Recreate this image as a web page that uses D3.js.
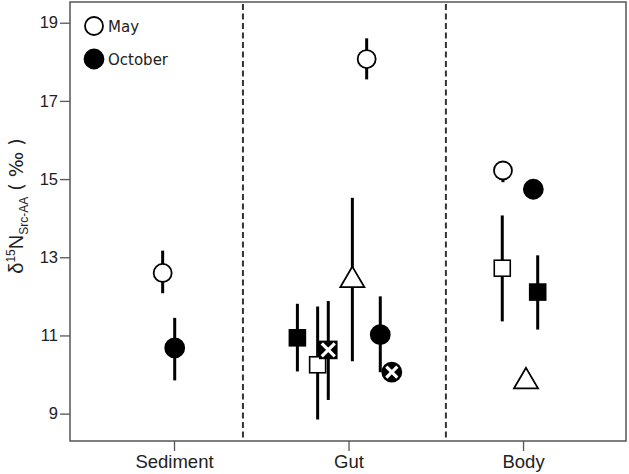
<!DOCTYPE html>
<html>
<head>
<meta charset="utf-8">
<title>d15N Src-AA</title>
<script src="https://d3js.org/d3.v7.min.js"></script>
<style>
  body { margin: 0; background: #fff; }
  svg { display: block; }
</style>
</head>
<body>
<div id="chart"></div>
<script>
// categories and axis ticks
const categories = ["Sediment", "Gut", "Body"];
const yTicks = [9, 11, 13, 15, 17, 19];
const dividers = [1.395, 2.558]; // dashed separators, in x data units
const legendLabels = ["May", "October"];

// one entry per plotted mean (x in category units, 1 = Sediment ... 3 = Body)
const markShape = ["circle", "circle",
  "circle", "square", "square", "squareX", "triangle", "circle", "circleX",
  "circle", "circle", "square", "square", "triangle"];
const markFill = ["open", "filled",
  "open", "filled", "open", "filled", "open", "filled", "filled",
  "open", "filled", "open", "filled", "open"];
const markX = [0.935, 1.004,
  2.104, 1.707, 1.823, 1.884, 2.022, 2.182, 2.248,
  2.885, 3.059, 2.881, 3.084, 3.017];
const markMean = [12.60, 10.68,
  18.07, 10.94, 10.25, 10.63, 12.48, 11.02, 10.06,
  15.22, 14.74, 12.72, 12.11, 9.89];
const markLow = [12.08, 9.85,
  17.55, 10.08, 8.85, 9.35, 10.34, 10.06, null,
  14.92, null, 11.36, 11.15, null];
const markHigh = [13.17, 11.45,
  18.60, 11.81, 11.74, 11.88, 14.52, 12.00, null,
  15.40, null, 14.07, 13.05, null];

var W = 629, H = 474;
var margin = {top: 2, right: 3, bottom: 33, left: 70};

const svg = d3.select("#chart").append("svg")
  .attr("width", W).attr("height", H);

// scales
const x = d3.scaleLinear()
  .domain([0.404, 3.59])
  .range([margin.left, W - margin.right]);
const y = d3.scaleLinear()
  .domain([8.30, 19.53])
  .range([H - margin.bottom, margin.top]);

// dashed dividers
svg.selectAll(".divider").data(dividers).enter().append("line")
  .attr("class", "divider")
  .attr("x1", d => x(d)).attr("x2", d => x(d))
  .attr("y1", y.range()[1] + 2).attr("y2", y.range()[0] - 2)
  .attr("stroke", "#333").attr("stroke-width", 2)
  .attr("stroke-dasharray", "6,3.5");

// axes
const yAxis = d3.axisLeft(y).tickValues(yTicks).tickSize(10).tickPadding(2);
svg.append("g").attr("transform", "translate(" + margin.left + ",0)")
  .call(yAxis)
  .call(g => g.select(".domain").remove())
  .call(g => g.selectAll("line").attr("stroke", "#555").attr("stroke-width", 1.3))
  .call(g => g.selectAll("text").attr("fill", "#222")
    .style("font-family", "'Liberation Sans', Arial, sans-serif").style("font-size", "16.5px"));

const xAxis = d3.axisBottom(x).tickValues([1, 2, 3])
  .tickFormat(d => categories[d - 1]).tickSize(10).tickPadding(4);
svg.append("g").attr("transform", "translate(0," + (H - margin.bottom) + ")")
  .call(xAxis)
  .call(g => g.select(".domain").remove())
  .call(g => g.selectAll("line").attr("stroke", "#555").attr("stroke-width", 1.3))
  .call(g => g.selectAll("text").attr("fill", "#222")
    .style("font-family", "'Liberation Sans', Arial, sans-serif").style("font-size", "18.5px"));

// frame
svg.append("rect")
  .attr("x", margin.left).attr("y", margin.top)
  .attr("width", W - margin.left - margin.right)
  .attr("height", H - margin.top - margin.bottom)
  .attr("fill", "none").attr("stroke", "#555").attr("stroke-width", 1.5);

// y label
const yl = svg.append("text")
  .attr("transform", "translate(23,206) rotate(-90)")
  .attr("text-anchor", "middle")
  .attr("fill", "#222")
  .style("font-family", "'Liberation Sans', Arial, sans-serif")
  .style("font-size", "20px");
yl.append("tspan").text("δ");
yl.append("tspan").attr("dy", -8).style("font-size", "12px").text("15");
yl.append("tspan").attr("dy", 8).text("N");
yl.append("tspan").attr("dy", 5).style("font-size", "12px").text("Src-AA");
yl.append("tspan").attr("dy", -5).style("font-family", "'DejaVu Sans', Verdana, sans-serif")
  .style("font-size", "19px").text(" ( ‰ )");

// marks
function drawMark(g, shape, filled, cx, cy) {
  const fill = filled ? "#000" : "#fff";
  if (shape === "circle" || shape === "circleX") {
    g.append("circle").attr("cx", cx).attr("cy", cy)
      .attr("r", filled ? 9.5 : 9)
      .attr("fill", fill).attr("stroke", "#000").attr("stroke-width", 1.8);
  } else if (shape === "square" || shape === "squareX") {
    const s = shape === "squareX" ? 17 : 16;
    g.append("rect").attr("x", cx - s / 2).attr("y", cy - s / 2)
      .attr("width", s).attr("height", s)
      .attr("fill", fill).attr("stroke", "#000").attr("stroke-width", 1.6);
  } else if (shape === "triangle") {
    const hw = 12, up = 11, dn = 9.5;
    g.append("path")
      .attr("d", "M" + cx + "," + (cy - up) + "L" + (cx + hw) + "," + (cy + dn) +
        "L" + (cx - hw) + "," + (cy + dn) + "Z")
      .attr("fill", fill).attr("stroke", "#000").attr("stroke-width", 1.8)
      .attr("stroke-linejoin", "miter");
  }
  if (shape === "circleX" || shape === "squareX") {
    const k = shape === "squareX" ? 6.5 : 5.5;
    g.append("path")
      .attr("d", "M" + (cx - k) + "," + (cy - k) + "L" + (cx + k) + "," + (cy + k) +
        "M" + (cx + k) + "," + (cy - k) + "L" + (cx - k) + "," + (cy + k))
      .attr("stroke", "#fff").attr("stroke-width", 3.2);
  }
}

const marks = svg.append("g");
markMean.forEach((m, i) => {
  const g = marks.append("g");
  if (markLow[i] != null) {
    g.append("line")
      .attr("x1", x(markX[i])).attr("x2", x(markX[i]))
      .attr("y1", y(markLow[i])).attr("y2", y(markHigh[i]))
      .attr("stroke", "#000").attr("stroke-width", 3);
  }
  drawMark(g, markShape[i], markFill[i] === "filled", x(markX[i]), y(m));
});

// legend
const legend = svg.append("g");
legendLabels.forEach((lab, i) => {
  const ly = 26 + i * 33;
  drawMark(legend, "circle", i === 1, 94, ly);
  legend.append("text")
    .attr("x", 108).attr("y", ly + 6)
    .attr("fill", "#222")
    .style("font-family", "'DejaVu Sans', Verdana, sans-serif")
    .style("font-size", "15px")
    .text(lab);
});
</script>
</body>
</html>
